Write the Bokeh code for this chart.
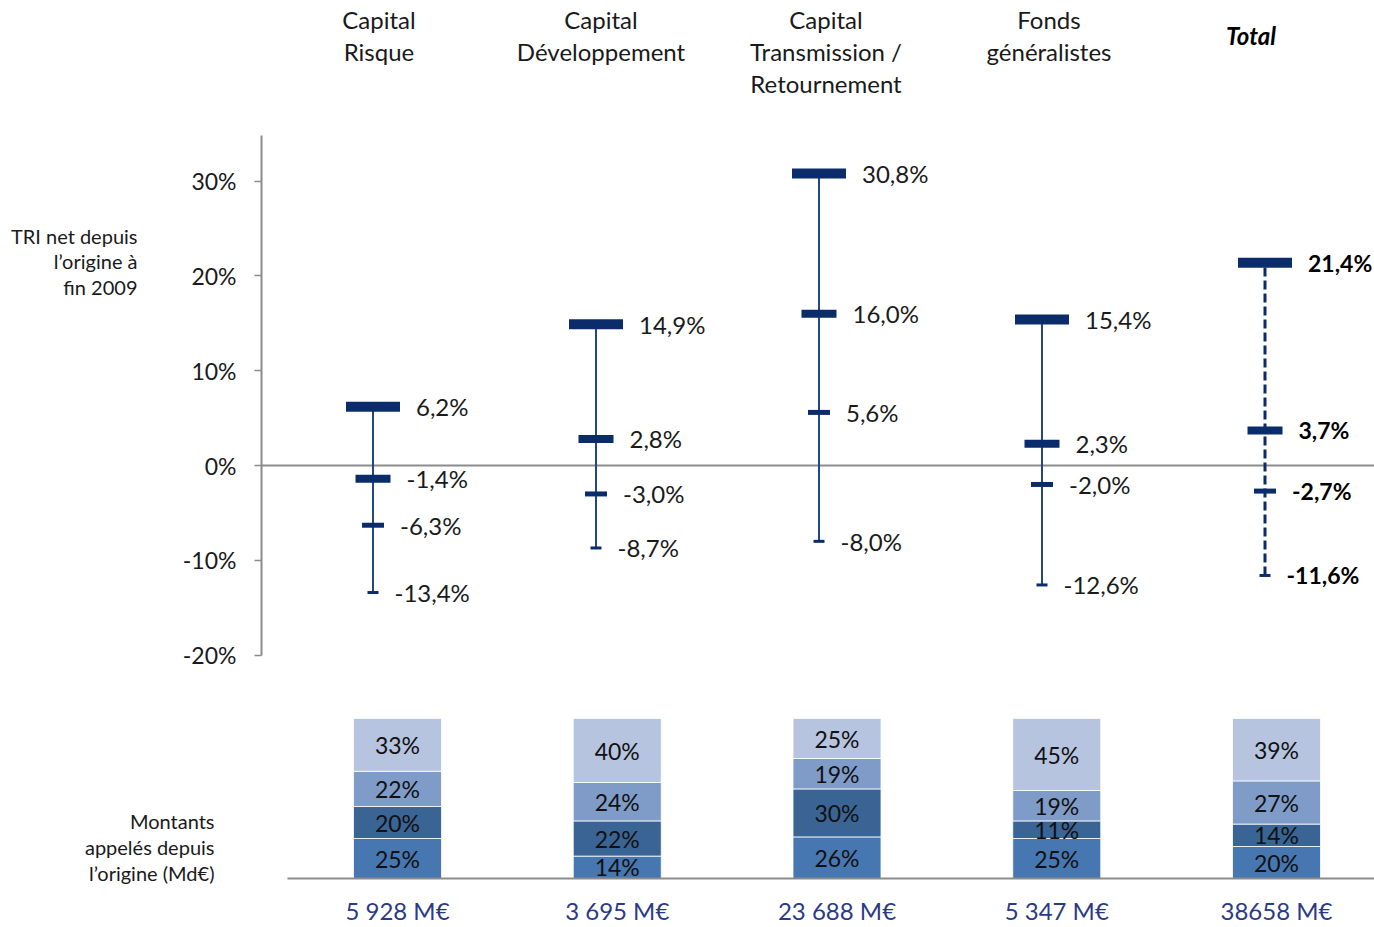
import numpy as np
from bokeh.plotting import figure
from bokeh.models import (Range1d, FixedTicker, Label, LabelSet,
                          ColumnDataSource, LinearAxis)
from bokeh.embed import file_html
from bokeh.resources import INLINE
from bokeh.core.properties import value

# ---------------- data ----------------
categories = ["Capital Risque", "Capital Développement",
              "Capital Transmission / Retournement", "Fonds généralistes", "Total"]
header_lines = [["Capital", "Risque"],
                ["Capital", "Développement"],
                ["Capital", "Transmission /", "Retournement"],
                ["Fonds", "généralistes"],
                ["Total"]]

tri_top = [6.2, 14.9, 30.8, 15.4, 21.4]
tri_upper = [-1.4, 2.8, 16.0, 2.3, 3.7]
tri_mid = [-6.3, -3.0, 5.6, -2.0, -2.7]
tri_bottom = [-13.4, -8.7, -8.0, -12.6, -11.6]

y_ticks = [-20, -10, 0, 10, 20, 30]
y_tick_labels = ["-20%", "-10%", "0%", "10%", "20%", "30%"]

share_1 = [25, 14, 26, 25, 20]   # bottom segment
share_2 = [20, 22, 30, 11, 14]
share_3 = [22, 24, 19, 19, 27]
share_4 = [33, 40, 25, 45, 39]   # top segment

amounts = ["5 928 M€", "3 695 M€", "23 688 M€", "5 347 M€", "38658 M€"]

tri_title = ["TRI net depuis", "l’origine à", "fin 2009"]
mont_title = ["Montants", "appelés depuis", "l’origine (Md€)"]

# ---------------- layout / styles ----------------
W, H = 1374, 927
FONT = "Lato"
NAVY = "#0B2C6B"
LINE = "#23477F"
GREY = "#8C8C8C"
TXT = "#1A1A1A"
SEG_COLORS = ["#4777B0", "#3A6494", "#7F9CC8", "#B7C4DF"]
MARK_W = [54, 35, 22, 11]
MARK_H = [10, 8, 5, 3]

# top chart geometry (pixels)
T_AX, T_UX = 261, 223       # axis x, category spacing
T_Y0, T_UY = 465, 9.48      # zero line y, px per %
# bottom chart geometry (pixels)
B_X0, B_UX = 397, 219.75    # first bar centre, bar spacing
B_Y0, B_H = 878, 160        # baseline y, 100% height


def tx(px):
    return -0.5 + (px - T_AX) / T_UX


def ty(py):
    return (T_Y0 - py) / T_UY


def bx(px):
    return (px - B_X0) / B_UX


def by(py):
    return (B_Y0 - py) / B_H


idx = list(range(len(categories)))
n_reg = len(categories) - 1

p = figure(width=W, height=H,
           x_range=Range1d(tx(0), tx(W)), y_range=Range1d(ty(H), ty(0)),
           output_backend="svg", toolbar_location=None,
           x_axis_type=None, y_axis_type=None, min_border=0,
           min_border_left=0, min_border_right=0, min_border_top=0,
           min_border_bottom=0)
p.extra_x_ranges = {"bx": Range1d(bx(0), bx(W))}
p.extra_y_ranges = {"by": Range1d(by(H), by(0))}
p.outline_line_color = None
p.background_fill_color = "white"
p.border_fill_color = "white"

# ---------------- top chart ----------------
yaxis = LinearAxis(ticker=FixedTicker(ticks=y_ticks), fixed_location=tx(T_AX),
                   bounds=(-20, ty(135)),
                   major_label_overrides=dict(zip(y_ticks, y_tick_labels)))
yaxis.axis_line_color = GREY
yaxis.axis_line_width = 2
yaxis.major_tick_line_color = GREY
yaxis.major_tick_line_width = 1.5
yaxis.major_tick_out = 7
yaxis.major_tick_in = 0
yaxis.minor_tick_line_color = None
yaxis.major_label_standoff = 18
yaxis.major_label_text_font = FONT
yaxis.major_label_text_font_size = "23px"
yaxis.major_label_text_color = TXT
p.add_layout(yaxis, "left")

# zero line
p.segment(x0=[tx(T_AX)], y0=[0], x1=[tx(W)], y1=[0], line_color=GREY, line_width=2)

# whiskers
p.segment(x0=idx[:n_reg], y0=tri_bottom[:n_reg], x1=idx[:n_reg], y1=tri_top[:n_reg],
          line_color=LINE, line_width=2)
p.segment(x0=idx[n_reg:], y0=tri_bottom[n_reg:], x1=idx[n_reg:], y1=tri_top[n_reg:],
          line_color=NAVY, line_width=3, line_dash="9 4")

levels = [tri_top, tri_upper, tri_mid, tri_bottom]
for lev, mw, mh in zip(levels, MARK_W, MARK_H):
    p.rect(x=idx, y=lev, width=mw, height=mh, width_units="screen",
           height_units="screen", fill_color=NAVY, line_color=None)


def fmt(v):
    return ("%.1f" % v).replace(".", ",") + "%"


def label_source(cats):
    xs, ys, ts, offs = [], [], [], []
    for lev, mw in zip(levels, MARK_W):
        for i in cats:
            xs.append(i)
            ys.append(lev[i])
            ts.append(fmt(lev[i]))
            offs.append(mw / 2 + 16)
    return ColumnDataSource(dict(x=xs, y=ys, t=ts, off=offs))


p.add_layout(LabelSet(x="x", y="y", text="t", x_offset="off",
                      source=label_source(idx[:n_reg]), text_font=value(FONT),
                      text_font_size="24px", text_color=TXT,
                      text_baseline="middle", text_align="left"))
p.add_layout(LabelSet(x="x", y="y", text="t", x_offset="off",
                      source=label_source(idx[n_reg:]), text_font=value(FONT),
                      text_font_size="23px", text_font_style="bold",
                      text_color="#000000", text_baseline="middle", text_align="left"))

# category headers (line centres in pixels)
header_mid = [19, 51, 83]
header_dx = [6, 5, 7, 7, -14]
for i, lines in enumerate(header_lines):
    if i == n_reg:
        p.add_layout(Label(x=i, y=ty(35), x_offset=header_dx[i], text=lines[0],
                           text_align="center", text_baseline="middle",
                           text_font=FONT, text_font_size="24px",
                           text_font_style="bold italic", text_color="#000000"))
    else:
        for line, yy in zip(lines, header_mid):
            p.add_layout(Label(x=i, y=ty(yy), x_offset=header_dx[i], text=line,
                               text_align="center", text_baseline="middle",
                               text_font=FONT, text_font_size="24px",
                               text_color=TXT))

for line, yy in zip(tri_title, [235, 260, 286]):
    p.add_layout(Label(x=tx(137), y=ty(yy), text=line, text_align="right",
                       text_baseline="middle", text_font=FONT,
                       text_font_size="20px", text_color=TXT))

# ---------------- bottom chart ----------------
shares = [share_1, share_2, share_3, share_4]
fr = [np.array(s) / 100.0 for s in shares]
src = ColumnDataSource(dict(x=idx, s1=fr[0], s2=fr[1], s3=fr[2], s4=fr[3]))
p.vbar_stack(["s1", "s2", "s3", "s4"], x="x", width=88 / B_UX, color=SEG_COLORS,
             line_color="white", line_width=0.8, source=src,
             x_range_name="bx", y_range_name="by")

stack = np.vstack(fr)
mids = np.cumsum(stack, axis=0) - stack / 2
sx, sy, st = [], [], []
for k, s in enumerate(shares):
    for i in idx:
        sx.append(i)
        sy.append(mids[k][i])
        st.append("%d%%" % s[i])
p.text(x=sx, y=sy, text=st, text_align="center", text_baseline="middle",
       text_font=value(FONT), text_font_size="23px", text_color="#111111",
       x_range_name="bx", y_range_name="by")

xaxis = LinearAxis(x_range_name="bx", y_range_name="by",
                   ticker=FixedTicker(ticks=idx), fixed_location=0,
                   bounds=(bx(287), bx(W)),
                   major_label_overrides=dict(zip(idx, amounts)))
xaxis.axis_line_color = GREY
xaxis.axis_line_width = 2
xaxis.major_tick_line_color = None
xaxis.major_tick_out = 0
xaxis.major_tick_in = 0
xaxis.minor_tick_line_color = None
xaxis.major_label_standoff = 17
xaxis.major_label_text_font = FONT
xaxis.major_label_text_font_size = "24px"
xaxis.major_label_text_color = "#2B3A86"
p.add_layout(xaxis, "below")

for line, yy in zip(mont_title, [820, 846, 872]):
    p.add_layout(Label(x=bx(214), y=by(yy), text=line, text_align="right",
                       text_baseline="middle", text_font=FONT,
                       text_font_size="20px", text_color=TXT,
                       x_range_name="bx", y_range_name="by"))

open("out.html", "w").write(file_html(p, INLINE))
